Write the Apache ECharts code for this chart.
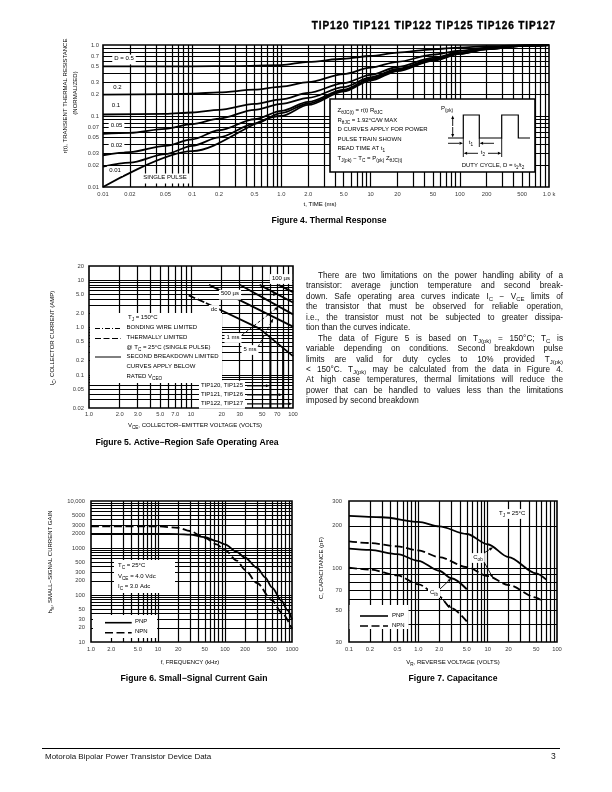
<!DOCTYPE html>
<html><head><meta charset="utf-8">
<script src="https://cdn.jsdelivr.net/npm/echarts@6/dist/echarts.min.js"></script>
<style>
html,body{margin:0;padding:0;background:#fff;}
#c{position:absolute;left:0;top:0;width:612px;height:792px;}
.hdr{position:absolute;right:56px;top:20px;font:bold 10px 'Liberation Sans',Arial,sans-serif;letter-spacing:0.9px;-webkit-text-stroke:0.35px #000;color:#000;white-space:nowrap;}
.para{position:absolute;left:306px;top:270.8px;width:257px;font:8.2px 'Liberation Sans',Arial,sans-serif;line-height:10.47px;color:#111;}
.para div{text-align:justify;text-align-last:justify;height:10.47px;}
.para div.l{text-align-last:left;}
.para div.ind{padding-left:12px;}
.para sub{font-size:6px;vertical-align:-2px;line-height:0;}
.foot{position:absolute;left:45px;top:752px;font:8px 'Liberation Sans',Arial,sans-serif;color:#111;}
.pg{position:absolute;left:551px;top:751px;font:8.5px 'Liberation Sans',Arial,sans-serif;color:#111;}
.rule{position:absolute;left:42px;top:747.5px;width:518px;height:0;border-top:1px solid #000;}
</style></head>
<body>
<div id="c"></div>
<div class="hdr">TIP120 TIP121 TIP122 TIP125 TIP126 TIP127</div>
<div class="para">
<div class="j ind">There are two limitations on the power handling ability of a</div>
<div class="j">transistor: average junction temperature and second break-</div>
<div class="j">down. Safe operating area curves indicate I<sub>C</sub> − V<sub>CE</sub> limits of</div>
<div class="j">the transistor that must be observed for reliable operation,</div>
<div class="j">i.e., the transistor must not be subjected to greater dissipa-</div>
<div class="l">tion than the curves indicate.</div>
<div class="j ind">The data of Figure 5 is based on T<sub>J(pk)</sub> = 150°C; T<sub>C</sub> is</div>
<div class="j">variable depending on conditions. Second breakdown pulse</div>
<div class="j">limits are valid for duty cycles to 10% provided T<sub>J(pk)</sub></div>
<div class="j">&lt; 150°C. T<sub>J(pk)</sub> may be calculated from the data in Figure 4.</div>
<div class="j">At high case temperatures, thermal limitations will reduce the</div>
<div class="j">power that can be handled to values less than the limitations</div>
<div class="l">imposed by second breakdown</div>
</div>
<div class="rule"></div>
<div class="foot">Motorola Bipolar Power Transistor Device Data</div>
<div class="pg">3</div>
<script>
const FONT = "'Liberation Sans', Arial, Helvetica, sans-serif";

// ---------- Figure 4: Thermal response (t in ms, r(t)) ----------
const fig4XTicks = [0.01,0.02,0.05,0.1,0.2,0.5,1,2,5,10,20,50,100,200,500,1000];
const fig4XLabels = ['0.01','0.02','0.05','0.1','0.2','0.5','1.0','2.0','5.0','10','20','50','100','200','500','1.0 k'];
const fig4YTicks = [1,0.7,0.5,0.3,0.2,0.1,0.07,0.05,0.03,0.02,0.01];
const fig4YLabels = ['1.0','0.7','0.5','0.3','0.2','0.1','0.07','0.05','0.03','0.02','0.01'];
const fig4_D05 = [[0.01,0.5],[0.1,0.5],[0.3,0.505],[1,0.52],[2,0.58],[5,0.64],[10,0.7],[20,0.78],[50,0.87],[100,0.92],[200,0.96],[500,0.99],[1000,1.0]];
const fig4_D02 = [[0.01,0.2],[0.05,0.203],[0.1,0.207],[0.2,0.215],[0.5,0.235],[1,0.26],[2,0.3],[5,0.39],[10,0.48],[20,0.58],[50,0.73],[100,0.83],[200,0.92],[500,0.98],[1000,1.0]];
const fig4_D01 = [[0.01,0.105],[0.05,0.107],[0.1,0.112],[0.2,0.122],[0.5,0.148],[1,0.172],[2,0.212],[5,0.29],[10,0.38],[20,0.49],[50,0.66],[100,0.79],[200,0.9],[500,0.98],[1000,1.0]];
const fig4_D005 = [[0.01,0.056],[0.02,0.058],[0.05,0.066],[0.1,0.077],[0.2,0.092],[0.5,0.122],[1,0.148],[2,0.18],[5,0.255],[10,0.35],[20,0.46],[50,0.63],[100,0.77],[200,0.89],[500,0.98],[1000,1.0]];
const fig4_D002 = [[0.01,0.028],[0.02,0.031],[0.05,0.038],[0.1,0.047],[0.2,0.063],[0.5,0.09],[1,0.118],[2,0.158],[5,0.235],[10,0.335],[20,0.445],[50,0.62],[100,0.76],[200,0.88],[500,0.975],[1000,1.0]];
const fig4_D001 = [[0.01,0.0193],[0.02,0.022],[0.05,0.029],[0.1,0.038],[0.2,0.05],[0.5,0.078],[1,0.11],[2,0.15],[5,0.228],[10,0.328],[20,0.44],[50,0.61],[100,0.755],[200,0.875],[500,0.97],[1000,1.0]];
const fig4_single = [[0.01,0.01],[0.1,0.032],[1,0.1],[2,0.143],[5,0.222],[10,0.315],[20,0.43],[50,0.6],[100,0.75],[200,0.87],[500,0.97],[1000,1.0]];

// ---------- Figure 5: SOA (VCE volts, IC amps) ----------
const fig5XTicks = [1,2,3,5,7,10,20,30,50,70,100];
const fig5XLabels = ['1.0','2.0','3.0','5.0','7.0','10','20','30','50','70','100'];
const fig5YTicks = [20,10,5,2,1,0.5,0.2,0.1,0.05,0.02];
const fig5YLabels = ['20','10','5.0','2.0','1.0','0.5','0.2','0.1','0.05','0.02'];
const fig5_dcThermal = [[9.5,4.8],[14,3.3]];
const fig5_dc = [[14,3.3],[47,0.95],[100,0.25]];
const fig5_5ms = [[15,8],[100,1.05]];
const fig5_1ms = [[30,8],[100,1.9]];
const fig5_500us = [[47,8],[100,3.4]];
const fig5_100us = [[72,8],[100,5.6]];
const fig5_lim60 = [[60,0.62],[60,0.02]];
const fig5_lim80 = [[80,0.37],[80,0.02]];

// ---------- Figure 6: hfe vs f (kHz) ----------
const fig6XTicks = [1,2,5,10,20,50,100,200,500,1000];
const fig6XLabels = ['1.0','2.0','5.0','10','20','50','100','200','500','1000'];
const fig6YTicks = [10000,5000,3000,2000,1000,500,300,200,100,50,30,20,10];
const fig6YLabels = ['10,000','5000','3000','2000','1000','500','300','200','100','50','30','20','10'];
const fig6_PNP = [[1,2000],[10,2000],[20,1980],[30,1920],[50,1700],[75,1400],[100,1200],[150,830],[200,620],[300,380],[400,235],[500,145],[700,75],[850,48],[1000,30]];
const fig6_NPN = [[1,2900],[10,2880],[20,2700],[30,2300],[50,1650],[75,1200],[100,900],[150,540],[200,340],[300,180],[500,78],[700,42],[1000,19]];

// ---------- Figure 7: Capacitance (VR volts, C pF) ----------
const fig7XTicks = [0.1,0.2,0.5,1,2,5,10,20,50,100];
const fig7XLabels = ['0.1','0.2','0.5','1.0','2.0','5.0','10','20','50','100'];
const fig7YTicks = [300,200,100,70,50,30];
const fig7YLabels = ['300','200','100','70','50','30'];
const fig7_CobPNP = [[0.1,235],[0.3,230],[1,213],[2,198],[5,175],[10,148],[20,120],[50,92],[70,83]];
const fig7_CobNPN = [[0.1,155],[0.2,151],[0.5,143],[1,134],[2,120],[5,102],[10,88],[20,76],[50,62],[60,59]];
const fig7_CibPNP = [[0.1,138],[0.2,135],[0.5,126],[1,113],[2,96],[3,85],[5,71]];
const fig7_CibNPN = [[0.1,101],[0.2,98],[0.5,89],[1,77],[2,63],[3,52],[5,42]];

// ---------- layout ----------
const extents = [
  {x:[0.01,1000], y:[0.01,1]},
  {x:[1,100], y:[0.02,20]},
  {x:[1,1000], y:[10,10000]},
  {x:[0.1,100], y:[30,300]}
];
const gridBoxes = [
  {left:103, top:45, width:446, height:142},
  {left:89, top:266, width:204, height:142},
  {left:91, top:501, width:201, height:141},
  {left:349, top:501, width:208, height:141}
];
const labelDist = [{x:4,y:4},{x:3.5,y:5},{x:4.5,y:6},{x:4.5,y:7}];

function decadeGrid(min,max){
  const out=[];
  for(let e=Math.floor(Math.log10(min))-1;e<=Math.ceil(Math.log10(max));e++){
    for(let k=1;k<=9;k++){const v=+(k*Math.pow(10,e)).toPrecision(6); if(v>min*1.0001 && v<max*0.9999) out.push(v);}
  }
  return out;
}
function gridSeries(i){
  const e=extents[i];
  const d=[];
  decadeGrid(e.x[0],e.x[1]).forEach(v=>d.push({xAxis:v}));
  decadeGrid(e.y[0],e.y[1]).forEach(v=>d.push({yAxis:v}));
  return {type:'line',xAxisIndex:i,yAxisIndex:i,data:[],silent:true,z:1,
    markLine:{silent:true,symbol:['none','none'],animation:false,label:{show:false},emphasis:{disabled:true},
      lineStyle:{color:'#000',width:1.2,type:'solid',opacity:1},data:d}};
}
function curve(i,data,opt){
  opt=opt||{};
  return {type:'line',xAxisIndex:i,yAxisIndex:i,data,symbol:'none',showSymbol:false,silent:true,z:5,
    smooth:opt.smooth===undefined?0.3:opt.smooth, smoothMonotone:'x',
    lineStyle:{color:'#000',width:opt.w||1.8,type:opt.dash||'solid'}};
}
function tickLabels(i,axis,vals,labels){
  const e=extents[i];
  return {type:'scatter',xAxisIndex:i,yAxisIndex:i,symbolSize:0.1,clip:false,silent:true,z:6,
    itemStyle:{color:'rgba(0,0,0,0)'},
    data:vals.map((v,k)=>({value: axis==='x'?[v,e.y[0]]:[e.x[0],v], label:{formatter:labels[k]}})),
    label:{show:true,position:axis==='x'?'bottom':'left',distance:axis==='x'?labelDist[i].x:labelDist[i].y,
      fontSize:5.8,fontFamily:FONT,color:'#000'}};
}

const series=[];
[0,1,2,3].forEach(i=>series.push(gridSeries(i)));
series.push(tickLabels(0,'x',fig4XTicks,fig4XLabels), tickLabels(0,'y',fig4YTicks,fig4YLabels));
series.push(tickLabels(1,'x',fig5XTicks,fig5XLabels), tickLabels(1,'y',fig5YTicks,fig5YLabels));
series.push(tickLabels(2,'x',fig6XTicks,fig6XLabels), tickLabels(2,'y',fig6YTicks,fig6YLabels));
series.push(tickLabels(3,'x',fig7XTicks,fig7XLabels), tickLabels(3,'y',fig7YTicks,fig7YLabels));
[fig4_D05,fig4_D02,fig4_D01,fig4_D005,fig4_D002,fig4_D001,fig4_single].forEach(d=>series.push(curve(0,d)));
series.push(curve(1,fig5_dcThermal,{smooth:false,dash:[7,3]}));
[fig5_dc,fig5_5ms,fig5_1ms,fig5_500us,fig5_100us].forEach(d=>series.push(curve(1,d,{smooth:false})));
series.push(curve(1,fig5_lim60,{smooth:false,w:2}), curve(1,fig5_lim80,{smooth:false,w:2}));
series.push(curve(2,fig6_PNP), curve(2,fig6_NPN,{dash:[8,3.5]}));
series.push(curve(3,fig7_CobPNP), curve(3,fig7_CobNPN,{dash:[8,3.5]}), curve(3,fig7_CibPNP), curve(3,fig7_CibNPN,{dash:[8,3.5]}));

const chart = echarts.init(document.getElementById('c'), null, {renderer:'canvas', width:612, height:792});
chart.setOption({
  animation:false,
  backgroundColor:'#fff',
  grid: gridBoxes.map(g=>Object.assign({show:true,borderColor:'#000',borderWidth:1.6,backgroundColor:'rgba(0,0,0,0)',containLabel:false},g)),
  xAxis: extents.map((e,i)=>({type:'log',logBase:10,gridIndex:i,min:e.x[0],max:e.x[1],axisLine:{show:false},axisTick:{show:false},axisLabel:{show:false},splitLine:{show:false},minorTick:{show:false},minorSplitLine:{show:false}})),
  yAxis: extents.map((e,i)=>({type:'log',logBase:10,gridIndex:i,min:e.y[0],max:e.y[1],axisLine:{show:false},axisTick:{show:false},axisLabel:{show:false},splitLine:{show:false},minorTick:{show:false},minorSplitLine:{show:false}})),
  series
});

// ---------- annotations ----------
function rt(str,fs,bold){
  const parts=str.split(/_\{([^}]*)\}/);
  let t='';
  parts.forEach((p,k)=>{ if(p==='') return; t+=(k%2?'{s|':'{n|')+p+'}'; });
  return {text:t, rich:{
    n:{fontSize:fs,fontFamily:FONT,fontWeight:bold?'bold':'normal',fill:'#000',verticalAlign:'bottom',padding:[0,0,fs*0.3,0]},
    s:{fontSize:fs*0.78,fontFamily:FONT,fontWeight:bold?'bold':'normal',fill:'#000',verticalAlign:'bottom'}}};
}
function txt(x,y,str,o){
  o=o||{};
  const fs=o.fs||6;
  const r=rt(str,fs,o.bold);
  return {type:'text',x,y,rotation:o.rot||0,z:o.z||120,silent:true,
    style:{text:r.text,rich:r.rich,fontSize:fs,fontFamily:FONT,fill:'#000',
      align:o.align||'left',verticalAlign:'middle',textAlign:o.align||'left',textVerticalAlign:'middle',
      backgroundColor:o.bg||'transparent',padding:o.pad||0}};
}
function rect(x,y,w,h,o){
  o=o||{};
  return {type:'rect',z:o.z||110,silent:true,shape:{x,y,width:w,height:h},style:{fill:o.fill||'#fff',stroke:o.stroke||null,lineWidth:o.lw||0}};
}
function seg(x1,y1,x2,y2,o){
  o=o||{};
  return {type:'line',z:o.z||121,silent:true,shape:{x1,y1,x2,y2},style:{stroke:'#000',lineWidth:o.lw||0.9,lineDash:o.dash||null}};
}
function arrow(x1,y1,x2,y2,o){
  o=o||{};
  const a=Math.atan2(y2-y1,x2-x1), L=o.len||4, W=o.wid||1.5;
  const bx=x2-L*Math.cos(a), by=y2-L*Math.sin(a);
  return [seg(x1,y1,bx,by,o),
    {type:'polygon',z:122,silent:true,shape:{points:[[x2,y2],[bx+W*Math.sin(a),by-W*Math.cos(a)],[bx-W*Math.sin(a),by+W*Math.cos(a)]]},style:{fill:'#000'}}];
}
function P(i,v){ return chart.convertToPixel({gridIndex:i}, v); }

const g=[];
// Figure 4
g.push(txt(66,96,'r(t), TRANSIENT THERMAL RESISTANCE',{rot:Math.PI/2,align:'center'}));
g.push(txt(76,93,'(NORMALIZED)',{rot:Math.PI/2,align:'center'}));
g.push(txt(320,205,'t, TIME (ms)',{align:'center'}));
g.push(txt(329,222,'Figure 4. Thermal Response',{fs:8.6,bold:true,align:'center'}));
g.push(txt(124,59.5,'D = 0.5',{align:'center',bg:'#fff',pad:[1,2]}));
g.push(txt(117.5,88,'0.2',{align:'center',bg:'#fff',pad:[1,2]}));
g.push(txt(116,106,'0.1',{align:'center',bg:'#fff',pad:[1,2]}));
g.push(txt(116.5,126,'0.05',{align:'center',bg:'#fff',pad:[1,2]}));
g.push(txt(116.5,146.7,'0.02',{align:'center',bg:'#fff',pad:[1,2]}));
g.push(txt(115,171,'0.01',{align:'center',bg:'#fff',pad:[1,2]}));
g.push(txt(165,178.5,'SINGLE PULSE',{align:'center',bg:'#fff',pad:[1,3]}));
g.push(rect(330,99,205,73,{stroke:'#000',lw:1.6}));
[['Z_{θJC(t)} = r(t) R_{θJC}',111],['R_{θJC} = 1.92°C/W MAX',121],['D CURVES APPLY FOR POWER',130.5],
 ['PULSE TRAIN SHOWN',140],['READ TIME AT t_{1}',149.5],['T_{J(pk)} − T_{C} = P_{(pk)} Z_{θJC(t)}',159.5]]
 .forEach(l=>g.push(txt(337.5,l[1],l[0])));
g.push(txt(447,109,'P_{(pk)}',{align:'center'}));
g.push(...arrow(452.7,126,452.7,115.5,{len:3.5}), ...arrow(452.7,127,452.7,137.5,{len:3.5}));
g.push({type:'polyline',z:121,silent:true,shape:{points:[[448,138],[463.3,138],[463.3,115],[479.3,115],[479.3,138],[501.7,138],[501.7,115],[518.3,115],[518.3,138],[530,138]]},style:{stroke:'#000',lineWidth:1.2,fill:null}});
g.push(...arrow(448,143.3,463,143.3,{len:3.5}), ...arrow(494,143.3,479.6,143.3,{len:3.5}));
g.push(txt(471,143.5,'t_{1}',{align:'center'}));
g.push(seg(463.3,138,463.3,157), seg(501.7,138,501.7,157), seg(479.3,138,479.3,147));
g.push(...arrow(478,153.3,463.6,153.3,{len:3.5}), ...arrow(488,153.3,501.4,153.3,{len:3.5}));
g.push(txt(483,153.5,'t_{2}',{align:'center',bg:'#fff',pad:[0,1]}));
g.push(txt(493,166,'DUTY CYCLE, D = t_{1}/t_{2}',{align:'center'}));

// Figure 5
g.push(txt(53,338,'I_{C}, COLLECTOR CURRENT (AMP)',{rot:Math.PI/2,align:'center'}));
g.push(txt(195,426,'V_{CE}, COLLECTOR−EMITTER VOLTAGE (VOLTS)',{align:'center'}));
g.push(txt(187,444,'Figure 5. Active−Region Safe Operating Area',{fs:8.6,bold:true,align:'center'}));
g.push(rect(90,313,132,70));
g.push(txt(128,318.5,'T_{J} = 150°C'));
g.push(seg(95,328.5,121,328.5,{lw:1,dash:[5,2,1,2]}), txt(126.5,328.5,'BONDING WIRE LIMITED'));
g.push(seg(95,338.5,121,338.5,{lw:1,dash:[6,2.5]}), txt(126.5,338.5,'THERMALLY LIMITED'));
g.push(txt(126.5,348,'@ T_{C} = 25°C (SINGLE PULSE)'));
g.push(seg(95,357,121,357,{lw:1}), txt(126.5,357,'SECOND BREAKDOWN LIMITED'));
g.push(txt(126.5,367,'CURVES APPLY BELOW'));
g.push(txt(126.5,377,'RATED V_{CEO}'));
(function(){
  const a=P(1,[70,5.0]);
  g.push(txt(230,294.7,'500 µs',{align:'center',bg:'#fff',pad:[1,2]}));
  g.push(...arrow(242,a[1],a[0],a[1],{lw:1.2}));
  g.push(txt(281,279,'100 µs',{align:'center',bg:'#fff',pad:[1,2]}));
  g.push(txt(214,310,'dc',{align:'center',bg:'#fff',pad:[1,2]}));
  const b=P(1,[72,2.75]);
  g.push(txt(233,338,'1 ms',{align:'center',bg:'#fff',pad:[1,2]}));
  g.push(...arrow(242,335,b[0],b[1],{dash:[3,2]}));
  const c=P(1,[64,1.55]);
  g.push(txt(250,350,'5 ms',{align:'center',bg:'#fff',pad:[1,2]}));
  g.push(...arrow(258,347,c[0],c[1],{dash:[3,2]}));
  const labs=[['TIP120, TIP125',[60,0.059]],['TIP121, TIP126',[80,0.038]],['TIP122, TIP127',[100,0.0245]]];
  labs.forEach(l=>{const p=P(1,l[1]); g.push(txt(245,p[1],l[0],{align:'right',bg:'#fff',pad:[1,2]})); g.push(...arrow(247,p[1],p[0]-0.5,p[1],{lw:1.3}));});
})();

// Figure 6
g.push(txt(51,562,'h_{fe}, SMALL−SIGNAL CURRENT GAIN',{rot:Math.PI/2,align:'center'}));
g.push(txt(190,663,'f, FREQUENCY (kHz)',{align:'center'}));
g.push(txt(194,680,'Figure 6. Small−Signal Current Gain',{fs:8.6,bold:true,align:'center'}));
g.push(rect(114,560,61,33));
g.push(txt(118,566.5,'T_{C} = 25°C'), txt(118,577,'V_{CE} = 4.0 Vdc'), txt(118,587,'I_{C} = 3.0 Adc'));
g.push(rect(93,615,64,23));
g.push(seg(105,622.7,131.7,622.7,{lw:1.6}), txt(135,622.7,'PNP'));
g.push(seg(105,632.7,131.7,632.7,{lw:1.6,dash:[8,3.5]}), txt(135,632.7,'NPN'));

// Figure 7
g.push(txt(322,568,'C, CAPACITANCE (pF)',{rot:Math.PI/2,align:'center'}));
g.push(txt(453,663,'V_{R}, REVERSE VOLTAGE (VOLTS)',{align:'center'}));
g.push(txt(453,680,'Figure 7. Capacitance',{fs:8.6,bold:true,align:'center'}));
g.push(txt(497,514,'T_{J} = 25°C',{bg:'#fff',pad:[1,2]}));
g.push(rect(349.5,605,59,24));
g.push(seg(360,616,388,616,{lw:1.6}), txt(392,616,'PNP'));
g.push(seg(360,626,388,626,{lw:1.6,dash:[8,3.5]}), txt(392,626,'NPN'));
(function(){
  const p1=P(3,[12,141]), p2=P(3,[12,85]);
  g.push(txt(478,558,'C_{ob}',{align:'center',bg:'#fff',pad:[1,2]}));
  g.push(...arrow(484,553,p1[0],p1[1]), ...arrow(484,562,p2[0],p2[1]));
  const q1=P(3,[3,85]), q2=P(3,[3,52]);
  g.push(txt(434,593,'C_{ib}',{align:'center',bg:'#fff',pad:[1,2]}));
  g.push(...arrow(440,589,q1[0],q1[1]), ...arrow(440,597,q2[0],q2[1]));
})();

chart.setOption({graphic:{elements:g}});
</script>
</body></html>
